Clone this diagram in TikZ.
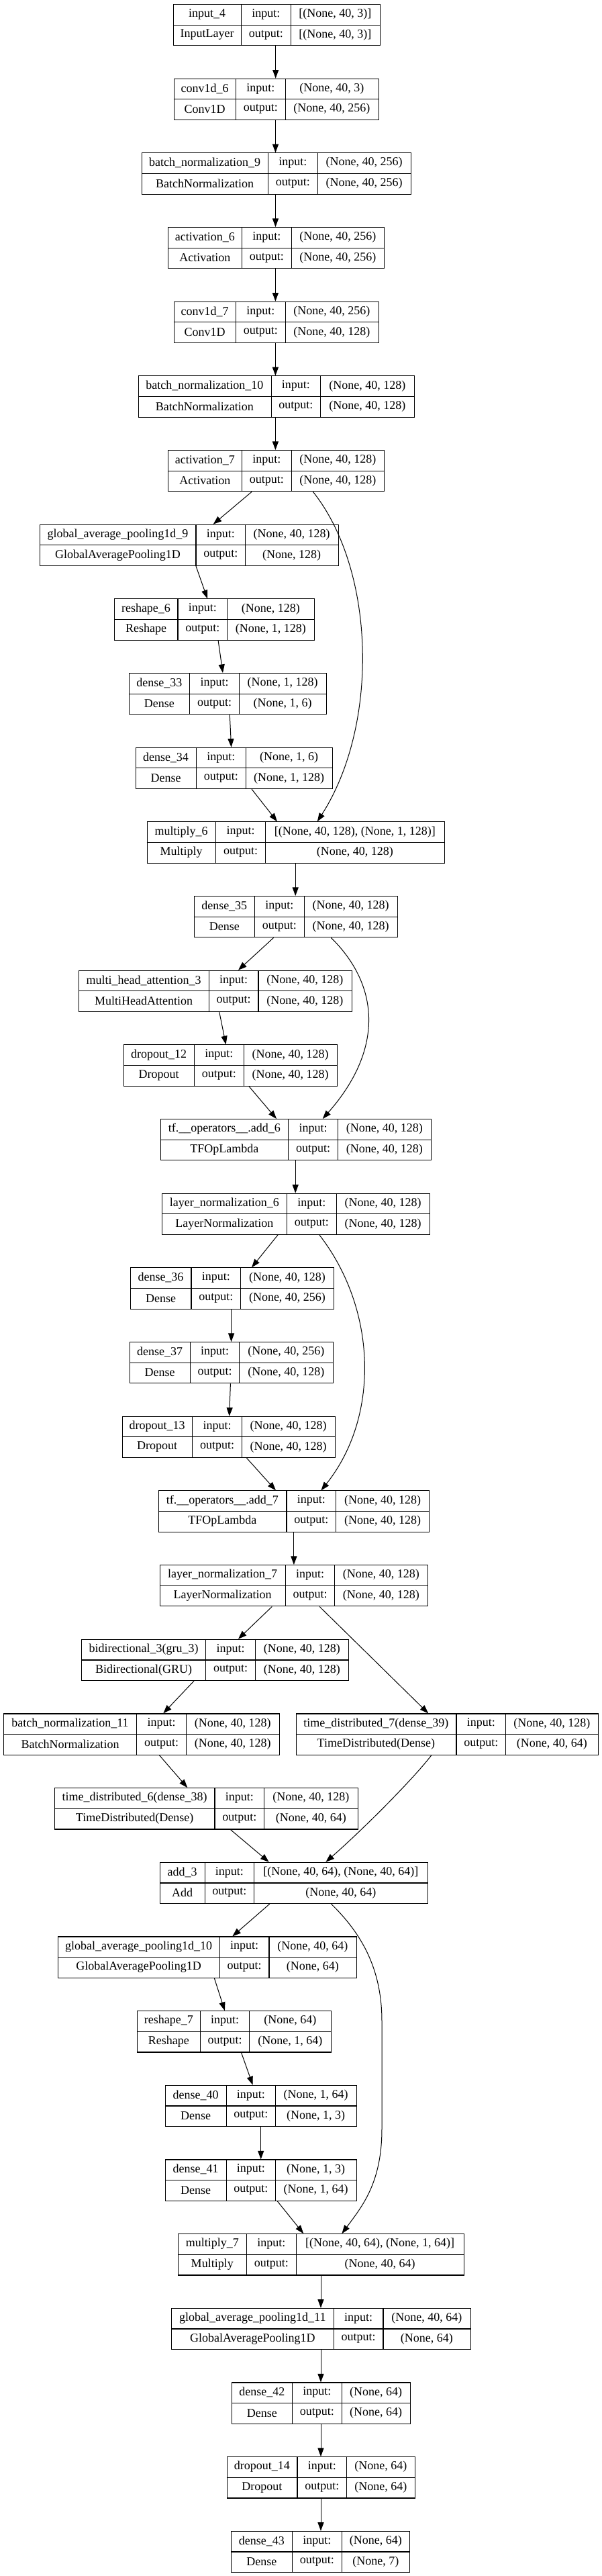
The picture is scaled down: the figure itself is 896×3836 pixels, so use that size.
\documentclass[tikz,border=0pt]{standalone}
\usepackage{fontspec}
\setmainfont{Liberation Serif}
\usetikzlibrary{arrows.meta}
\tikzset{
  lbox/.style={draw=black, line width=0.8pt, rectangle, inner sep=0pt, minimum height=46pt},
  cell/.style={draw=black, line width=0.8pt},
  txt/.style={inner sep=0pt, font=\fontsize{13.5pt}{16pt}\selectfont},
  arr/.style={draw=black, line width=0.75pt, -{Triangle[length=9.5pt,width=6.8pt]}},
}
% #1 name, #2 x1, #3 x2, #4 first divider, #5 rank, #6 layer name, #7 class, #8 input, #9 output
\newcommand\klayer[9]{%
  \pgfmathsetmacro\kY{6+110.67*#5}%
  \pgfmathsetmacro\kW{(#3-#2)*0.75}%
  \pgfmathsetmacro\kD{#4+73.6}%
  \node[lbox, minimum width=\kW pt, anchor=north west] (#1) at (#2,\kY) {};
  \draw[cell] (#1.west) -- (#1.east);
  \draw[cell] (#1.north -| #4,0) -- (#1.south -| #4,0);
  \draw[cell] (#1.north -| \kD,0) -- (#1.south -| \kD,0);
  \node[txt] (#1-n) at ({(#2+#4)/2},{\kY+15.33}) {#6};
  \node[txt] (#1-c) at ({(#2+#4)/2},{\kY+46}) {#7};
  \node[txt] (#1-i) at ({#4+36.8},{\kY+15.33}) {input:};
  \node[txt] (#1-o) at ({#4+36.8},{\kY+46}) {output:};
  \node[txt] (#1-a) at ({(\kD+#3)/2},{\kY+15.33}) {#8};
  \node[txt] (#1-b) at ({(\kD+#3)/2},{\kY+46}) {#9};
}
\begin{document}
\begin{tikzpicture}[x=0.75pt,y=-0.75pt]
\useasboundingbox (0,0) rectangle (896,3836);
\fill[white] (0,0) rectangle (896,3836);

\klayer{in4}{257.6}{565.5}{359.5}{0}{input\_4}{InputLayer}{[(None, 40, 3)]}{[(None, 40, 3)]}
\klayer{cv6}{258.7}{563.8}{351.5}{1}{conv1d\_6}{Conv1D}{(None, 40, 3)}{(None, 40, 256)}
\klayer{bn9}{210.6}{611.9}{399.5}{2}{batch\_normalization\_9}{BatchNormalization}{(None, 40, 256)}{(None, 40, 256)}
\klayer{ac6}{250}{572.4}{360.6}{3}{activation\_6}{Activation}{(None, 40, 256)}{(None, 40, 256)}
\klayer{cv7}{258.7}{563.8}{351.5}{4}{conv1d\_7}{Conv1D}{(None, 40, 256)}{(None, 40, 128)}
\klayer{bn10}{205.5}{617}{404.1}{5}{batch\_normalization\_10}{BatchNormalization}{(None, 40, 128)}{(None, 40, 128)}
\klayer{ac7}{250}{572.4}{360.6}{6}{activation\_7}{Activation}{(None, 40, 128)}{(None, 40, 128)}
\klayer{gp9}{59}{503.7}{292}{7}{global\_average\_pooling1d\_9}{GlobalAveragePooling1D}{(None, 40, 128)}{(None, 128)}
\klayer{rs6}{170}{468}{265}{8}{reshape\_6}{Reshape}{(None, 128)}{(None, 1, 128)}
\klayer{d33}{191.8}{486}{282.8}{9}{dense\_33}{Dense}{(None, 1, 128)}{(None, 1, 6)}
\klayer{d34}{201.5}{495}{292.5}{10}{dense\_34}{Dense}{(None, 1, 6)}{(None, 1, 128)}
\klayer{mu6}{218.7}{662.3}{321.7}{11}{multiply\_6}{Multiply}{[(None, 40, 128), (None, 1, 128)]}{(None, 40, 128)}
\klayer{d35}{289}{591.9}{379.5}{12}{dense\_35}{Dense}{(None, 40, 128)}{(None, 40, 128)}
\klayer{mha}{116.8}{523.8}{311.4}{13}{multi\_head\_attention\_3}{MultiHeadAttention}{(None, 40, 128)}{(None, 40, 128)}
\klayer{dr12}{183.7}{502}{289.6}{14}{dropout\_12}{Dropout}{(None, 40, 128)}{(None, 40, 128)}
\klayer{ad6}{238.7}{642.2}{429.9}{15}{tf.\_\_operators\_\_.add\_6}{TFOpLambda}{(None, 40, 128)}{(None, 40, 128)}
\klayer{ln6}{241}{640}{427.6}{16}{layer\_normalization\_6}{LayerNormalization}{(None, 40, 128)}{(None, 40, 128)}
\klayer{d36}{194}{497.4}{285}{17}{dense\_36}{Dense}{(None, 40, 128)}{(None, 40, 256)}
\klayer{d37}{193}{495.7}{283.3}{18}{dense\_37}{Dense}{(None, 40, 256)}{(None, 40, 128)}
\klayer{dr13}{181.5}{499}{286.8}{19}{dropout\_13}{Dropout}{(None, 40, 128)}{(None, 40, 128)}
\klayer{ad7}{235.8}{639.4}{427}{20}{tf.\_\_operators\_\_.add\_7}{TFOpLambda}{(None, 40, 128)}{(None, 40, 128)}
\klayer{ln7}{238}{637}{425.3}{21}{layer\_normalization\_7}{LayerNormalization}{(None, 40, 128)}{(None, 40, 128)}
\klayer{bi3}{121.4}{519.2}{306.8}{22}{bidirectional\_3(gru\_3)}{Bidirectional(GRU)}{(None, 40, 128)}{(None, 40, 128)}
\klayer{bn11}{5.2}{416.1}{203.8}{23}{batch\_normalization\_11}{BatchNormalization}{(None, 40, 128)}{(None, 40, 128)}
\klayer{td7}{440.8}{891.2}{680}{23}{time\_distributed\_7(dense\_39)}{TimeDistributed(Dense)}{(None, 40, 128)}{(None, 40, 64)}
\klayer{td6}{81.3}{533}{320}{24}{time\_distributed\_6(dense\_38)}{TimeDistributed(Dense)}{(None, 40, 128)}{(None, 40, 64)}
\klayer{ad3}{238}{637}{305.1}{25}{add\_3}{Add}{[(None, 40, 64), (None, 40, 64)]}{(None, 40, 64)}
\klayer{gp10}{85.9}{530.6}{327.4}{26}{global\_average\_pooling1d\_10}{GlobalAveragePooling1D}{(None, 40, 64)}{(None, 64)}
\klayer{rs7}{204.4}{492.8}{298.2}{27}{reshape\_7}{Reshape}{(None, 64)}{(None, 1, 64)}
\klayer{d40}{246}{530.6}{337.1}{28}{dense\_40}{Dense}{(None, 1, 64)}{(None, 1, 3)}
\klayer{d41}{246}{530.6}{337.1}{29}{dense\_41}{Dense}{(None, 1, 3)}{(None, 1, 64)}
\klayer{mu7}{265}{691}{367.5}{30}{multiply\_7}{Multiply}{[(None, 40, 64), (None, 1, 64)]}{(None, 40, 64)}
\klayer{gp11}{255.3}{700.6}{497.4}{31}{global\_average\_pooling1d\_11}{GlobalAveragePooling1D}{(None, 40, 64)}{(None, 64)}
\klayer{d42}{345.2}{610.8}{435.6}{32}{dense\_42}{Dense}{(None, 64)}{(None, 64)}
\klayer{dr14}{337.7}{618.2}{443}{33}{dropout\_14}{Dropout}{(None, 64)}{(None, 64)}
\klayer{d43}{344.3}{610.3}{435.6}{34}{dense\_43}{Dense}{(None, 64)}{(None, 7)}

% connectors
\draw[arr] (in4.south -| 410.7,0) -- (cv6.north -| 410.7,0);
\draw[arr] (cv6.south -| 410.5,0) -- (bn9.north -| 410.5,0);
\draw[arr] (bn9.south -| 410.5,0) -- (ac6.north -| 410.5,0);
\draw[arr] (ac6.south -| 410.4,0) -- (cv7.north -| 410.4,0);
\draw[arr] (cv7.south -| 410.4,0) -- (bn10.north -| 410.4,0);
\draw[arr] (bn10.south -| 410.4,0) -- (ac7.north -| 410.4,0);
\draw[arr] (ac7.south -| 375,0) -- (gp9.north -| 317.7,0);
\draw[arr] (ac7.south -| 466.5,0) .. controls (560,850) and (565,1080) .. (mu6.north -| 472.8,0);
\draw[arr] (gp9.south -| 292,0) -- (rs6.north -| 309,0);
\draw[arr] (rs6.south -| 325.1,0) -- (d33.north -| 332,0);
\draw[arr] (d33.south -| 342.3,0) -- (d34.north -| 344.6,0);
\draw[arr] (d34.south -| 375,0) -- (mu6.north -| 413,0);
\draw[arr] (mu6.south -| 440.2,0) -- (d35.north -| 440.2,0);
\draw[arr] (d35.south -| 407.6,0) -- (mha.north -| 355,0);
\draw[arr] (d35.south -| 493.4,0) .. controls (568,1470) and (570,1565) .. (ad6.north -| 480.8,0);
\draw[arr] (mha.south -| 326.8,0) -- (dr12.north -| 336.6,0);
\draw[arr] (dr12.south -| 371,0) -- (ad6.north -| 412,0);
\draw[arr] (ad6.south -| 440.2,0) -- (ln6.north -| 440.2,0);
\draw[arr] (ln6.south -| 413.9,0) -- (d36.north -| 375,0);
\draw[arr] (ln6.south -| 476,0) .. controls (562,1950) and (566,2110) .. (ad7.north -| 478.5,0);
\draw[arr] (d36.south -| 344.6,0) -- (d37.north -| 344.6,0);
\draw[arr] (d37.south -| 343.4,0) -- (dr13.north -| 341.7,0);
\draw[arr] (dr13.south -| 367.5,0) -- (ad7.north -| 411,0);
\draw[arr] (ad7.south -| 437.9,0) -- (ln7.north -| 437.9,0);
\draw[arr] (ln7.south -| 405.3,0) -- (bi3.north -| 354.9,0);
\draw[arr] (ln7.south -| 476.2,0) -- (td7.north -| 638.2,0);
\draw[arr] (bi3.south -| 289,0) -- (bn11.north -| 243.3,0);
\draw[arr] (bn11.south -| 237.5,0) -- (td6.north -| 279.3,0);
\draw[arr] (td7.south -| 642.8,0) .. controls (615,2650) and (540,2725) .. (ad3.north -| 485.4,0);
\draw[arr] (td6.south -| 343.4,0) -- (ad3.north -| 400.7,0);
\draw[arr] (ad3.south -| 401.8,0) -- (gp10.north -| 346.3,0);
\draw[arr] (ad3.south -| 493.4,0) .. controls (545,2885) and (569,2940) .. (569,3010) -- (569,3170) .. controls (569,3250) and (540,3285) .. (mu7.north -| 509.4,0);
\draw[arr] (gp10.south -| 319.4,0) -- (rs7.north -| 334.9,0);
\draw[arr] (rs7.south -| 359.5,0) -- (d40.north -| 376.6,0);
\draw[arr] (d40.south -| 388.7,0) -- (d41.north -| 388.7,0);
\draw[arr] (d41.south -| 413.3,0) -- (mu7.north -| 452.2,0);
\draw[arr] (mu7.south -| 478,0) -- (gp11.north -| 478,0);
\draw[arr] (gp11.south -| 478,0) -- (d42.north -| 478,0);
\draw[arr] (d42.south -| 478,0) -- (dr14.north -| 478,0);
\draw[arr] (dr14.south -| 478,0) -- (d43.north -| 478,0);
\end{tikzpicture}
\end{document}
